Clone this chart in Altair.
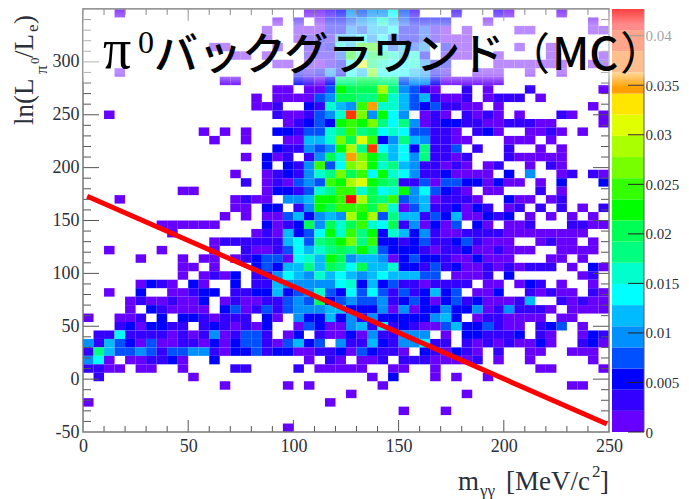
import altair as alt
import pandas as pd

LEVEL_CHARS = "123456789abcdefghijk"
Z_MAX = 0.0427
BANDS = 20
BAND_COLORS = ["#6600ff", "#3300ff", "#0000ff", "#0050ff", "#0090ff", "#00bbff", "#00ffff",
               "#00ffcc", "#00ff80", "#00ff55", "#00ff00", "#33ff00", "#77ff00", "#aaff00",
               "#e0ff00", "#ffe600", "#ffa000", "#ff7000", "#ff3800", "#ff0000"]

# 50 x 50 histogram, top row first; each character is the colour band of one cell
GRID_ROWS = [
    "...1. ..... ..... ..... .1123 54557 42... 2...2 1.... 1....",
    "..... ..... ..... ...1. 2.133 45686 43333 ...1. ..... ...1.",
    "..... ..... ..... ..1.. 11133 54667 33421 .1... .11.. ...11",
    "..... ..... ..... ..1.. 12326 67574 33421 11... ..... .....",
    "..... ..... ..11. ...1. .2238 6cc74 645.3 11... .1..1 .....",
    "..... ..... ....1 1.1.. .2224 b7a98 683.2 11..1 ....1 ....1",
    "..... ..... ..... ...11 .1123 7f987 78533 ....1 11111 1..11",
    "...1. ..... ..... ..... 32353 76d77 76532 ..111 ..1.. 1....",
    "..... ..... ...11 ..... 32139 9aa99 45531 11111 ..... .....",
    "..... ..... ..... ...11 .114b aaae9 5421. .2.1. ..2.. ....1",
    "..... ..... ..... .1.11 1145a a99c8 64621 12.12 22.1. .....",
    "..... ..... ..... .112. .3286 5ch88 64342 211.1 ..... ...1.",
    "..1.. ..... ..... ...21 12458 jd5b7 5.121 .2121 .1... 21..1",
    "..... ..... ..... ....1 2343b cbd97 95123 32211 22211 ....1",
    "..... ..... .1.1. 1..33 24489 c9a78 74422 1.231 ..112 1.1..",
    "..... ..... ..1.. 1...1 1668d afc35 96522 11... 111.1 .....",
    "..... ..... ..... ...32 2545b e9j76 73922 4.2.. 2..1. 1....",
    "..... ..... ..... 1.312 .25a8 hdb96 75922 12... 21111 1....",
    "..... ..... ..... ..3.3 25c47 deb89 65221 21.12 ..1.2 1....",
    "..... ..... ....1 ..123 2589d ac7b8 75223 1111. 3.5.. 12.21",
    "..... ..... ..... 2.121 454cb efba9 22414 43313 11.1. 3...3",
    "..... ....1 1.... ..133 2489c c8a78 b5743 21.11 ...2. 1....",
    "...1. ..... ....1 211.5 56bbc kea9c 45612 221.. 311.1 2....",
    "..... ..... ....1 1.33. 25bac ccad8 14622 3132. 12.2. 2.1.2",
    "..... ..... ...1. 1.114 63565 ebe49 66243 61132 3.1.1 .1.1.",
    "..... ..111 111.. ..312 3a5a8 ac87a 25131 4.31. 112.. .2211",
    "..... ...1. ..... .1216 347b8 c9b38 63521 12222 11111 111..",
    "..... ..... ..122 22226 749ab d9c33 23422 34211 1..12 11.1.",
    "..1.. ..1.. ..1.. 21124 7689a 9b943 33212 23112 111.. 1111.",
    "..... 1...1 .11.1 23441 786ba 56651 34332 11311 1...1 1.1..",
    "..... ....1 1.1.. .3436 696a9 7a668 33242 31121 21222 .1.31",
    "..... ....1 .1213 .2257 65867 65676 6644. 1112. 3.... ..12.",
    "..... 1321. 31..3 .2265 55557 83634 22122 22.11 .132. 1..1.",
    "..1.. 3..11 233.2 23363 45843 74742 42363 4.113 ..212 11.21",
    "....1 21121 13.12 11224 54a34 54452 34313 42311 126.. 21211",
    "....1 .3211 11.34 12424 55566 33351 51335 33512 52221 .1111",
    "1..11 2.3.3 32122 2.31. 53363 52533 33356 3.122 1111. 11...",
    "...23 13322 .2321 213.. 14311 56272 32114 63342 11.23 4.1..",
    ".2272 22212 12512 442.1 3.211 31522 555.1 .3322 23.21 ..132",
    "52643 14112 21313 44214 634.5 22632 55722 .2121 21131 ..231",
    "29644 54244 55213 34233 11223 14322 1.321 321.2 ..11. .111.",
    "571.1 12231 ..3.. ..... .1.21 .112. 22211 112.1 ..1.. ...1.",
    "2211. 11..1 ....2 2.... 2.111 11..1 1..1. ..... ...11 ....1",
    ".2... ..... 1.... ..... ..... ..1.3 ...1. 1..1. ..... .....",
    "..... ..... ...1. ....1 .1... ...1. ..... ..... ..... .11..",
    "..... ..... ..... ..... ..... 1.... ..... .1... ..... .....",
    "1.... ..... ..... ..... ...1. ..... ..... ..... ..... .....",
    "..... ..... ..... ..... ..... ..... 1...1 ..... ..... .....",
    "..... ..... ..... ..... ..... ..... ..... ..... ..... .....",
    "..... ..... ..... ....1 ..... ..... ..... ..... ..... .....",
]

CUT_X = [2, 249]
CUT_Y = [173, -42.5]

X_LABELS = [0, 50, 100, 150, 200, 250]
Y_LABELS = [-50, 0, 50, 100, 150, 200, 250, 300]
Z_LABELS = [0, 0.005, 0.01, 0.015, 0.02, 0.025, 0.03, 0.035, 0.04]
X_MINOR = [v for v in range(10, 250, 10) if v % 50]
Y_MINOR = [v for v in range(-40, 350, 10) if v % 50]
Y_MAJOR = [0, 50, 100, 150, 200, 250, 300]
X_MAJOR = [50, 100, 150, 200]

W, H = 526, 423
INK = "#555555"
LABEL_INK = "#2b2f3a"
SERIF = "Liberation Serif"
CJK = "Noto Sans CJK JP"

x_scale = alt.Scale(domain=[0, 250], nice=False, zero=False)
y_scale = alt.Scale(domain=[-50, 350], nice=False, zero=False)
z_scale = alt.Scale(domain=[0, Z_MAX], nice=False, zero=False)
step = Z_MAX / BANDS
color_scale = alt.Scale(type="threshold", domain=[step * k for k in range(1, BANDS)], range=BAND_COLORS)

cells = []
for j, row in enumerate(GRID_ROWS):
    row = row.replace(" ", "").ljust(50, ".")[:50]
    top = 350 - 8 * j
    for i, ch in enumerate(row):
        if ch != ".":
            cells.append({"x0": 5 * i, "x1": 5 * i + 5, "y0": top - 8, "y1": top,
                          "z": (LEVEL_CHARS.index(ch) + 0.5) * step})
cells = pd.DataFrame(cells)

heat = alt.Chart(cells).mark_rect(strokeWidth=0).encode(
    x=alt.X("x0:Q", scale=x_scale, title=None,
            axis=alt.Axis(values=X_LABELS, ticks=False, domain=False, grid=False, labelFont=SERIF,
                          labelFontSize=18, labelColor=LABEL_INK, labelPadding=5, labelFlush=False, format="d")),
    x2="x1:Q",
    y=alt.Y("y0:Q", scale=y_scale, title=None,
            axis=alt.Axis(values=Y_LABELS, ticks=False, domain=False, grid=False, labelFont=SERIF,
                          labelFontSize=18, labelColor=LABEL_INK, labelPadding=4,
                          labelExpr="toString(datum.value)")),
    y2="y1:Q",
    color=alt.Color("z:Q", scale=color_scale, legend=None),
)

bar_df = pd.DataFrame({"lo": [step * k for k in range(BANDS)], "hi": [step * (k + 1) for k in range(BANDS)],
                       "z": [step * (k + 0.5) for k in range(BANDS)]})
colorbar = alt.Chart(bar_df).mark_rect(strokeWidth=0).encode(
    x=alt.value(W + 3), x2=alt.value(W + 35),
    y=alt.Y("lo:Q", scale=z_scale, title=None,
            axis=alt.Axis(orient="right", offset=35, values=Z_LABELS, ticks=False, domain=False, grid=False,
                          labelFont=SERIF, labelFontSize=15, labelColor=LABEL_INK, labelPadding=1, format="~g")),
    y2="hi:Q",
    color=alt.Color("z:Q", scale=color_scale, legend=None),
)
z_ticks = alt.Chart(pd.DataFrame({"v": Z_LABELS})).mark_rule(color="#222222", strokeWidth=1).encode(
    y=alt.Y("v:Q", scale=z_scale, axis=None), x=alt.value(W + 19), x2=alt.value(W + 35))
bar_edge = alt.Chart(pd.DataFrame({"v": [0]})).mark_rule(color=INK, strokeWidth=1).encode(
    x=alt.value(W + 35), y=alt.value(0), y2=alt.value(H))


def h_ticks(values, a, b, width=1.0):
    return alt.Chart(pd.DataFrame({"v": values})).mark_rule(color=INK, strokeWidth=width).encode(
        y=alt.Y("v:Q", scale=y_scale, axis=None), x=alt.value(a), x2=alt.value(b))


def v_ticks(values, a, b, width=1.0):
    return alt.Chart(pd.DataFrame({"v": values})).mark_rule(color=INK, strokeWidth=width).encode(
        x=alt.X("v:Q", scale=x_scale, axis=None), y=alt.value(a), y2=alt.value(b))


def text(s, px, py, size, font=SERIF, color="black", angle=0, weight=None):
    kw = {}
    if angle:
        kw["angle"] = angle
    if weight:
        kw["fontWeight"] = weight
    return alt.Chart(pd.DataFrame({"t": [s]})).mark_text(
        text=s, font=font, fontSize=size, color=color, align="left", baseline="alphabetic", **kw
    ).encode(x=alt.value(px - 83), y=alt.value(py - 9))


ticks = [
    h_ticks(Y_MINOR, 0, 8), h_ticks(Y_MAJOR, 0, 16),
    h_ticks(Y_MINOR, W - 8, W), h_ticks(Y_MAJOR, W - 16, W),
    v_ticks(X_MINOR, H - 6, H), v_ticks(X_MAJOR, H - 12, H),
    v_ticks(X_MINOR, 0, 6), v_ticks(X_MAJOR, 0, 12),
]

frame = alt.Chart(pd.DataFrame({"v": [0]})).mark_rect(fill=None, stroke="#777777", strokeWidth=1.5).encode(
    x=alt.value(0), x2=alt.value(W), y=alt.value(0), y2=alt.value(H))

veil = alt.Chart(pd.DataFrame({"v": [0]})).mark_rect(
    strokeWidth=0,
    color=alt.Gradient(
        gradient="linear", x1=0, x2=0, y1=0, y2=1,
        stops=[alt.GradientStop(offset=0, color="rgba(255,255,255,0.25)"),
               alt.GradientStop(offset=0.2, color="rgba(255,255,255,0.55)"),
               alt.GradientStop(offset=0.82, color="rgba(255,255,255,0.55)"),
               alt.GradientStop(offset=1, color="rgba(255,255,255,0)")]),
).encode(x=alt.value(0), x2=alt.value(590), y=alt.value(0), y2=alt.value(79))

line = alt.Chart(pd.DataFrame({"x": CUT_X, "y": CUT_Y})).mark_line(color="#ff0000", strokeWidth=5).encode(
    x=alt.X("x:Q", scale=x_scale, axis=None), y=alt.Y("y:Q", scale=y_scale, axis=None))

labels = [
    text("π", 103, 68, 56),
    text("0", 138, 53, 32),
    text("バックグラウンド", 154, 70, 44, font=CJK, weight=500),
    text("（", 506, 70, 44, font=CJK),
    text("MC", 552, 70, 45, font=CJK, weight=500),
    text("）", 620, 70, 45, font=CJK),
    text("m", 458, 490, 27, color=LABEL_INK),
    text("γγ", 480, 496, 17, color=LABEL_INK),
    text("[MeV/c", 506, 490, 27, color=LABEL_INK),
    text("2", 592, 477, 17, color=LABEL_INK),
    text("]", 600, 490, 27, color=LABEL_INK),
    text("ln(L", 33, 125, 27, color=LABEL_INK, angle=270),
    text("π", 47, 74, 17, color=LABEL_INK, angle=270),
    text("0", 39, 64, 13, color=LABEL_INK, angle=270),
    text("/L", 33, 58, 27, color=LABEL_INK, angle=270),
    text("e", 38, 32, 17, color=LABEL_INK, angle=270),
    text(")", 33, 24, 27, color=LABEL_INK, angle=270),
]

chart = alt.layer(heat, colorbar, z_ticks, bar_edge, *ticks, frame, veil, line, *labels).resolve_scale(
    y="independent", x="independent"
).properties(
    width=W, height=H, autosize="none",
    padding={"left": 75, "top": 1, "right": 72, "bottom": 67},
).configure_view(stroke=None)

chart.save("out.html", embed_options={"renderer": "svg", "actions": False})
